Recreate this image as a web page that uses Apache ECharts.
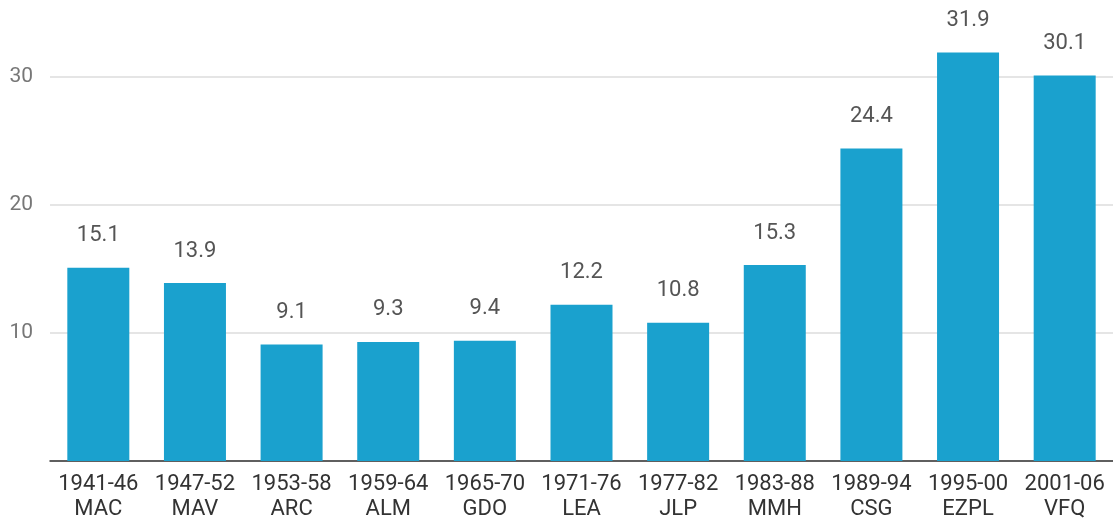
<!DOCTYPE html>
<html>
<head>
<meta charset="utf-8">
<script src="https://cdn.jsdelivr.net/npm/echarts@6/dist/echarts.min.js"></script>
<style>
  html, body { margin: 0; padding: 0; background: #fff; }
  #chart { width: 1113px; height: 522px; }
</style>
</head>
<body>
<div id="chart"></div>
<script>
// Period and code for each bar
const periods = ['1941-46', '1947-52', '1953-58', '1959-64', '1965-70', '1971-76', '1977-82', '1983-88', '1989-94', '1995-00', '2001-06'];
const codes = ['MAC', 'MAV', 'ARC', 'ALM', 'GDO', 'LEA', 'JLP', 'MMH', 'CSG', 'EZPL', 'VFQ'];
const values = [15.1, 13.9, 9.1, 9.3, 9.4, 12.2, 10.8, 15.3, 24.4, 31.9, 30.1];
const yTicks = [0, 10, 20, 30];
const yMax = 36;

const categories = periods.map((p, i) => p + '\n' + codes[i]);

const chart = echarts.init(document.getElementById('chart'), null, { renderer: 'canvas' });
chart.setOption({
  animation: false,
  backgroundColor: '#ffffff',
  grid: { left: 50, top: 0, width: 1070, bottom: 57, containLabel: false },
  xAxis: {
    type: 'category',
    data: categories,
    axisTick: { show: false },
    axisLine: { lineStyle: { color: '#333333', width: 1.5 } },
    axisLabel: {
      interval: 0,
      color: '#333333',
      fontFamily: 'Roboto',
      fontSize: 22,
      lineHeight: 25,
      margin: 11
    }
  },
  yAxis: {
    type: 'value',
    min: yTicks[0],
    max: yMax,
    interval: 10,
    axisLine: { show: false },
    axisTick: { show: false },
    splitLine: { showMaxLine: false, lineStyle: { color: '#dddddd', width: 1.5 } },
    axisLabel: {
      showMaxLabel: false,
      color: '#777777',
      fontFamily: 'Roboto',
      fontSize: 21,
      margin: 17,
      formatter: v => (yTicks.indexOf(v) > 0 ? String(v) : '')
    }
  },
  series: [{
    type: 'bar',
    data: values,
    barWidth: 62,
    itemStyle: { color: '#1aa1ce' },
    label: {
      show: true,
      position: 'top',
      distance: 21,
      color: '#555555',
      fontFamily: 'Roboto',
      fontSize: 22,
      formatter: p => p.value.toFixed(1)
    }
  }]
});
</script>
</body>
</html>
